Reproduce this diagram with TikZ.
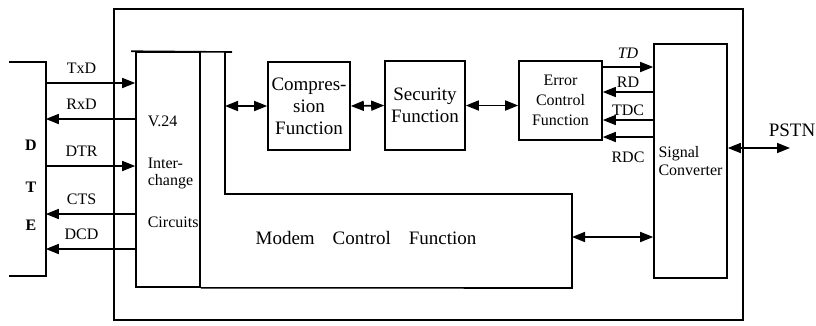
\documentclass[tikz,border=0pt]{standalone}
\usepackage{fontspec}
\setmainfont{Liberation Serif}
\usetikzlibrary{arrows.meta}

\begin{document}
\begin{tikzpicture}[
    x=1pt, y=-1pt,
    line width=1.6pt,
    box/.style={draw,inner sep=0pt,align=center},
    fwd/.style={-{Triangle[length=13pt,width=10pt]}},
    back/.style={{Triangle[length=13pt,width=10pt]}-},
    both/.style={{Triangle[length=13pt,width=10pt]}-{Triangle[length=13pt,width=10pt]}},
    lbl/.style={font=\fontsize{16}{18}\selectfont,inner sep=1pt}
  ]
  \useasboundingbox (0,0) rectangle (816,325);
  % modem frame and DTE side
  \node[draw,minimum width=629pt,minimum height=311pt] (modem) at (428.5,164.5) {};
  \node[minimum width=35pt,minimum height=212pt,inner sep=0pt] (dte) at (27.5,169) {};
  \draw (dte.north west) -- (dte.north east) -- (dte.south east) -- (dte.south west);
  \foreach \l/\y in {D/145,T/187,E/225}
    \node[font=\fontsize{16}{18}\selectfont\bfseries] (dte\l) at (31,\y) {\l};

  % blocks
  \node[box,minimum width=64pt,minimum height=235pt] (v24) at (168,169.5) {};
  \node[font=\fontsize{16}{17}\selectfont,align=left,anchor=north west,inner sep=1pt] (v24txt) at (146,114)
    {V.24\\[25pt]Inter-\\change\\[25pt]Circuits};
  \node[box,minimum width=82pt,minimum height=88pt,font=\fontsize{19}{22}\selectfont] (comp) at (309,106)
    {Compres-\\sion\\Function};
  \node[box,minimum width=80pt,minimum height=89pt,font=\fontsize{19}{22}\selectfont] (sec) at (425,105.5)
    {Security\\Function};
  \node[box,minimum width=83pt,minimum height=79pt,font=\fontsize{16}{20}\selectfont] (err) at (560.5,100.5)
    {Error\\Control\\Function};
  \node[box,minimum width=73pt,minimum height=234pt,font=\fontsize{16}{18}\selectfont,align=left] (sig) at (690.5,161)
    {Signal\\Converter};

  % modem control function (L-shaped)
  \coordinate (mcfnw) at (225,52);
  \coordinate (mcfin) at (225,194);
  \coordinate (mcfse) at (572,288);
  \draw ([xshift=-4pt]v24.north west) -- ([xshift=7pt]mcfnw);
  \draw (mcfnw) -- (mcfin) -- (mcfin -| mcfse) -- (mcfse) -- (v24.south east);
  \node[font=\fontsize{19}{22}\selectfont] (mcf) at (366,238)
    {Modem\hspace{18pt}Control\hspace{18pt}Function};

  % data path
  \draw[both] (mcfnw |- comp.west) -- (comp.west);
  \draw[both] (comp.east) -- (sec.west);
  \draw[both] (sec.east) -- (sec.east -| err.west);
  \coordinate (mcfe) at (572,237);
  \draw[both] (mcfe) -- (mcfe -| sig.west);
  \coordinate (pstnend) at (790,148);
  \draw[both] (pstnend -| sig.east) -- (pstnend);
  \node[font=\fontsize{19}{22}\selectfont] (pstn) at (792,130) {PSTN};

  % interchange circuits
  \foreach \y/\lab/\d in {83/TxD/fwd,119/RxD/back,166/DTR/fwd,214/CTS/back,249/DCD/back} {
    \coordinate (s\y) at (0,\y);
    \draw[\d] (dte.east |- s\y) -- (v24.west |- s\y)
      node[lbl,pos=0.4,anchor=south,yshift=8pt] (l\lab) {\lab};
  }
  \foreach \y/\lab/\d/\anc/\sh in {67/{\itshape TD}/fwd/south/7pt,92/RD/back/south/3pt,
      120/TDC/back/south/3pt,137/RDC/back/north/-13pt} {
    \coordinate (s\y) at (0,\y);
    \draw[\d] (err.east |- s\y) -- (sig.west |- s\y)
      node[lbl,midway,anchor=\anc,yshift=\sh] (r\y) {\lab};
  }
\end{tikzpicture}
\end{document}
